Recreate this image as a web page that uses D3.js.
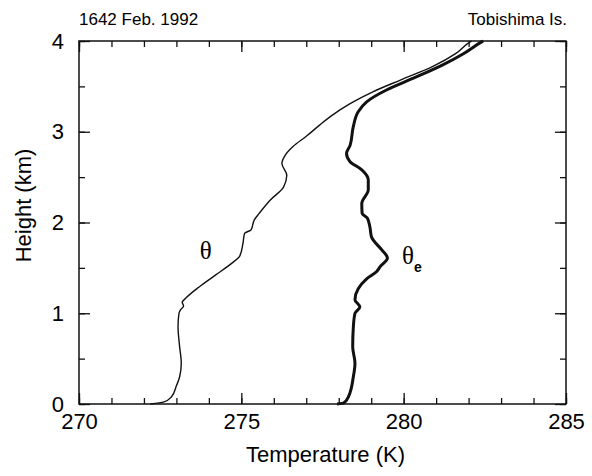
<!DOCTYPE html>
<html>
<head>
<meta charset="utf-8">
<script src="https://cdn.jsdelivr.net/npm/d3@7"></script>
<style>
  body { margin: 0; background: #fff; }
  svg text { font-family: "Liberation Sans", Arial, Helvetica, sans-serif; fill: #000; }
</style>
</head>
<body>
<svg id="chart" width="592" height="476"></svg>
<script>
// potential temperature (theta) profile
const thetaTemp = [272.2, 272.6, 272.85, 273.0, 273.1, 273.15, 273.1, 273.05, 273.08, 273.13,
  273.22, 273.18, 273.3, 273.7, 274.2, 274.7, 274.95, 275.05, 275.1, 275.3,
  275.4, 275.55, 275.9, 276.3, 276.4, 276.25, 276.35, 276.6, 277.0, 277.4,
  277.75, 278.35, 279.05, 279.9, 280.9, 281.6, 282.05, 282.1];
const thetaHeight = [0, 0.02, 0.08, 0.2, 0.3, 0.45, 0.63, 0.85, 1.0, 1.04,
  1.08, 1.12, 1.17, 1.29, 1.42, 1.55, 1.63, 1.77, 1.88, 1.92,
  2.03, 2.10, 2.25, 2.39, 2.52, 2.65, 2.74, 2.84, 2.95, 3.07,
  3.17, 3.31, 3.44, 3.57, 3.72, 3.86, 3.99, 4.0];

// equivalent potential temperature (theta_e) profile
const thetaETemp = [277.95, 278.15, 278.3, 278.45, 278.5, 278.43, 278.45, 278.5, 278.65, 278.5,
  278.6, 278.86, 279.17, 279.27, 279.5, 279.32, 279.01, 278.96, 278.88, 278.72,
  278.71, 278.91, 278.91, 278.71, 278.35, 278.24, 278.35, 278.45, 278.6, 278.86,
  279.47, 280.3, 281.22, 281.84, 282.4, 282.45];
const thetaEHeight = [0, 0.01, 0.08, 0.30, 0.45, 0.63, 0.85, 1.0, 1.07, 1.15,
  1.27, 1.38, 1.46, 1.51, 1.61, 1.70, 1.84, 1.95, 2.05, 2.10,
  2.21, 2.36, 2.47, 2.58, 2.67, 2.76, 2.85, 3.06, 3.22, 3.33,
  3.46, 3.59, 3.74, 3.86, 3.99, 4.0];

const xMajorTicks = [270, 275, 280, 285];
const xMinorTicks = d3.range(270, 286, 1);
const yMajorTicks = [0, 1, 2, 3, 4];
const yMinorTicks = d3.range(0, 4.01, 0.5);

const margin = { top: 41, right: 26, bottom: 72, left: 79 };
const width = 592 - margin.left - margin.right;
const height = 476 - margin.top - margin.bottom;

const svg = d3.select('#chart');
svg.append('rect').attr('width', 592).attr('height', 476).attr('fill', '#fff');

const g = svg.append('g').attr('transform', `translate(${margin.left},${margin.top})`);

const x = d3.scaleLinear().domain([270, 285]).range([0, width]);
const y = d3.scaleLinear().domain([0, 4]).range([height, 0]);

const majorLen = 11;
const minorLen = 6;

function styleAxis(sel) {
  sel.select('.domain').remove();
  sel.selectAll('.tick line').attr('stroke', '#111').attr('stroke-width', 1.3);
  sel.selectAll('.tick text').style('font-size', '22px');
}

// minor ticks, all four sides
g.append('g').attr('transform', `translate(0,${height})`)
  .call(d3.axisBottom(x).tickValues(xMinorTicks).tickSize(-minorLen).tickFormat(''))
  .call(styleAxis);
g.append('g')
  .call(d3.axisTop(x).tickValues(xMinorTicks).tickSize(-minorLen).tickFormat(''))
  .call(styleAxis);
g.append('g')
  .call(d3.axisLeft(y).tickValues(yMinorTicks).tickSize(-minorLen).tickFormat(''))
  .call(styleAxis);
g.append('g').attr('transform', `translate(${width},0)`)
  .call(d3.axisRight(y).tickValues(yMinorTicks).tickSize(-minorLen).tickFormat(''))
  .call(styleAxis);

// major ticks
g.append('g').attr('transform', `translate(0,${height})`)
  .call(d3.axisBottom(x).tickValues(xMajorTicks).tickSize(-majorLen).tickPadding(9).tickFormat(d3.format('d')))
  .call(styleAxis);
g.append('g')
  .call(d3.axisTop(x).tickValues(xMajorTicks).tickSize(-majorLen).tickFormat(''))
  .call(styleAxis);
g.append('g')
  .call(d3.axisLeft(y).tickValues(yMajorTicks).tickSize(-majorLen).tickPadding(15).tickFormat(d3.format('d')))
  .call(styleAxis);
g.append('g').attr('transform', `translate(${width},0)`)
  .call(d3.axisRight(y).tickValues(yMajorTicks).tickSize(-majorLen).tickFormat(''))
  .call(styleAxis);

// frame
g.append('rect')
  .attr('width', width)
  .attr('height', height)
  .attr('fill', 'none')
  .attr('stroke', '#111')
  .attr('stroke-width', 1.5);

// profiles
const profile = d3.line()
  .x(d => x(d[0]))
  .y(d => y(d[1]))
  .curve(d3.curveMonotoneY);

g.append('path')
  .datum(d3.zip(thetaTemp, thetaHeight))
  .attr('d', profile)
  .attr('fill', 'none')
  .attr('stroke', '#111')
  .attr('stroke-width', 1.4);

g.append('path')
  .datum(d3.zip(thetaETemp, thetaEHeight))
  .attr('d', profile)
  .attr('fill', 'none')
  .attr('stroke', '#111')
  .attr('stroke-width', 3);

// curve labels
g.append('text')
  .attr('x', x(273.72))
  .attr('y', y(1.6))
  .style('font-family', '"Liberation Serif", "DejaVu Serif", serif')
  .style('font-size', '25px')
  .text('θ');

const eLabel = g.append('text')
  .attr('x', x(279.95))
  .attr('y', y(1.54))
  .style('font-family', '"Liberation Serif", "DejaVu Serif", serif')
  .style('font-size', '25px');
eLabel.append('tspan').text('θ');
eLabel.append('tspan')
  .attr('dy', 8)
  .style('font-family', '"Liberation Sans", Arial, sans-serif')
  .style('font-size', '14px')
  .style('font-weight', 'bold')
  .text('e');

// axis titles
svg.append('text')
  .attr('x', margin.left + width / 2 + 3)
  .attr('y', 462)
  .attr('text-anchor', 'middle')
  .style('font-size', '22px')
  .text('Temperature (K)');

svg.append('text')
  .attr('transform', `translate(31,${margin.top + height / 2 - 17}) rotate(-90)`)
  .attr('text-anchor', 'middle')
  .style('font-size', '22px')
  .text('Height (km)');

// header labels
svg.append('text')
  .attr('x', 79)
  .attr('y', 25)
  .style('font-size', '17px')
  .text('1642 Feb. 1992');

svg.append('text')
  .attr('x', margin.left + width + 1)
  .attr('y', 25)
  .attr('text-anchor', 'end')
  .style('font-size', '17px')
  .text('Tobishima Is.');
</script>
</body>
</html>
